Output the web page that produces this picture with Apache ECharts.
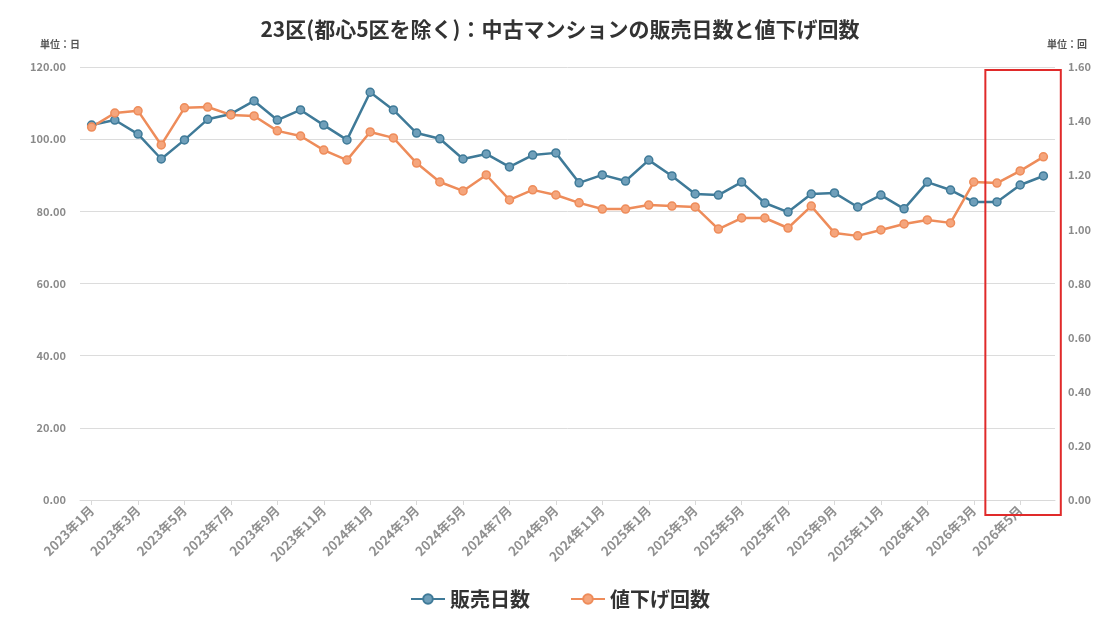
<!DOCTYPE html>
<html><head><meta charset="utf-8">
<script src="https://cdn.jsdelivr.net/npm/echarts@6/dist/echarts.min.js"></script>
<style>html,body{margin:0;padding:0;background:#fff}#c{width:1120px;height:630px}</style>
</head><body><div id="c"></div>
<script>
const months = [];
for (let y = 2023; y <= 2026; y++) { for (let m = 1; m <= 12; m++) { if (y === 2026 && m > 6) break; months.push(y + '年' + m + '月'); } }
const salesDays = [103.9,105.3,101.4,94.5,99.8,105.5,107.0,110.6,105.3,108.1,103.9,99.8,
  113.0,108.1,101.7,100.1,94.5,95.9,92.3,95.6,96.2,87.9,90.1,88.4,
  94.2,89.8,84.8,84.5,88.1,82.3,79.8,84.8,85.1,81.2,84.5,80.7,
  88.1,85.9,82.6,82.6,87.3,89.8];
const priceCuts = [1.378,1.430,1.438,1.312,1.449,1.452,1.423,1.419,1.364,1.345,1.293,1.256,
  1.360,1.338,1.245,1.175,1.142,1.201,1.109,1.146,1.127,1.098,1.075,1.075,
  1.090,1.086,1.083,1.001,1.042,1.042,1.005,1.086,0.987,0.976,0.998,1.020,
  1.035,1.024,1.175,1.171,1.216,1.268];
const leftTicks = {min:0, max:120, interval:20};
const rightTicks = {min:0, max:1.6, interval:0.2};
const unitLeft = '単位：日', unitRight = '単位：回';

const FONT = "'Noto Sans CJK JP','Noto Sans',sans-serif";
const BLUE = '#3f7a98', ORANGE = '#ee8c5a';
const chart = echarts.init(document.getElementById('c'));
const labelStyle = {color:'#8a8a8a', fontWeight:'bold', fontSize:11, fontFamily:FONT};
chart.setOption({
  backgroundColor:'#fff',
  animation:false,
  title:{text:'23区(都心5区を除く)：中古マンションの販売日数と値下げ回数', left:'center', top:14,
    textStyle:{fontSize:21, fontWeight:'bold', color:'#333', fontFamily:FONT}},
  legend:{bottom:16, left:'center', itemWidth:34, itemHeight:12, itemGap:40,
    textStyle:{fontSize:20, fontWeight:'bold', color:'#333', fontFamily:FONT},
    data:['販売日数','値下げ回数']},
  grid:{left:80, right:65, top:67, bottom:130, containLabel:false},
  xAxis:{type:'category', data:months, boundaryGap:true,
    axisLine:{lineStyle:{color:'#d9d9d9'}},
    axisTick:{show:true, alignWithLabel:true, interval:1, lineStyle:{color:'#d9d9d9'}},
    axisLabel:Object.assign({rotate:45, interval:1, margin:8}, labelStyle, {fontSize:13, color:'#909090'})},
  yAxis:[
    {type:'value', min:leftTicks.min, max:leftTicks.max, interval:leftTicks.interval,
      axisLine:{show:false}, axisTick:{show:false},
      splitLine:{lineStyle:{color:'#dcdcdc', width:1}},
      axisLabel:Object.assign({formatter:v=>v.toFixed(2), margin:14}, labelStyle)},
    {type:'value', min:rightTicks.min, max:rightTicks.max, interval:rightTicks.interval,
      axisLine:{show:false}, axisTick:{show:false}, splitLine:{show:false},
      axisLabel:Object.assign({formatter:v=>v.toFixed(2), margin:13}, labelStyle)}
  ],
  series:[
    {name:'販売日数', type:'line', yAxisIndex:0, data:salesDays, symbol:'circle', symbolSize:8,
      lineStyle:{color:BLUE, width:2.5}, itemStyle:{color:'#6f9fba', borderColor:BLUE, borderWidth:1.5}, color:BLUE},
    {name:'値下げ回数', type:'line', yAxisIndex:1, data:priceCuts, symbol:'circle', symbolSize:8,
      lineStyle:{color:ORANGE, width:2.5}, itemStyle:{color:'#f5a57c', borderColor:ORANGE, borderWidth:1.5}, color:ORANGE}
  ]
});
// red highlight box around the last months
const pA = chart.convertToPixel({xAxisIndex:0, yAxisIndex:0}, [38, 120]);
const pB = chart.convertToPixel({xAxisIndex:0, yAxisIndex:0}, [39, 0]);
const pC = chart.convertToPixel({xAxisIndex:0, yAxisIndex:0}, [41, 0]);
const x0 = (pA[0] + pB[0]) / 2;
const step = pB[0] - pA[0];
const x1 = pC[0] + step * 0.75;
const unitStyle = {fill:'#555', fontSize:10, fontWeight:'bold', fontFamily:FONT};
chart.setOption({graphic:[
  {type:'rect', shape:{x:x0, y:pA[1]+3, width:x1-x0, height:(pB[1]+15)-(pA[1]+3)},
    style:{fill:'none', stroke:'#e02a2a', lineWidth:2}, z:100},
  {type:'text', left:40, top:39, style:Object.assign({text:unitLeft}, unitStyle)},
  {type:'text', left:1047, top:39, style:Object.assign({text:unitRight}, unitStyle)}
]});
</script></body></html>
